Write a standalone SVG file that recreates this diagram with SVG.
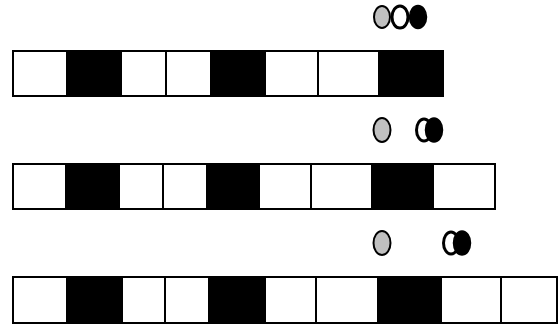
<svg xmlns="http://www.w3.org/2000/svg" width="558" height="324" viewBox="0 0 558 324">
<style>
.w{fill:#fff;stroke:#000;stroke-width:2}
.b{fill:#000;stroke:#000;stroke-width:2}
.g{fill:#c0c0c0;stroke:#000;stroke-width:2}
.r{fill:#fff;stroke:#000;stroke-width:3}
.k{fill:#000;stroke:#000;stroke-width:1.5}
</style>
<rect width="558" height="324" fill="#fff"/>
<g id="balls1">
<ellipse class="g" cx="382" cy="17" rx="8" ry="11"/>
<ellipse class="r" cx="400" cy="17" rx="8" ry="11"/>
<ellipse class="k" cx="418" cy="17" rx="8.5" ry="11.5"/>
</g>
<g id="tape1">
<rect class="w" x="13" y="51" width="54" height="45"/>
<rect class="b" x="67" y="51" width="54" height="45"/>
<rect class="w" x="121" y="51" width="45" height="45"/>
<rect class="w" x="166" y="51" width="45" height="45"/>
<rect class="b" x="211" y="51" width="54" height="45"/>
<rect class="w" x="265" y="51" width="53" height="45"/>
<rect class="w" x="318" y="51" width="61" height="45"/>
<rect class="b" x="379" y="51" width="64" height="45"/>
</g>
<g id="balls2">
<ellipse class="g" cx="382" cy="130" rx="8.5" ry="12"/>
<ellipse class="r" cx="424" cy="130" rx="7.5" ry="11"/>
<ellipse class="k" cx="434" cy="130" rx="8.5" ry="12"/>
</g>
<g id="tape2">
<rect class="w" x="13" y="164" width="53" height="45"/>
<rect class="b" x="66" y="164" width="53" height="45"/>
<rect class="w" x="119" y="164" width="44" height="45"/>
<rect class="w" x="163" y="164" width="44" height="45"/>
<rect class="b" x="207" y="164" width="52" height="45"/>
<rect class="w" x="259" y="164" width="52" height="45"/>
<rect class="w" x="311" y="164" width="61" height="45"/>
<rect class="b" x="372" y="164" width="61" height="45"/>
<rect class="w" x="433" y="164" width="62" height="45"/>
</g>
<g id="balls3">
<ellipse class="g" cx="382" cy="243" rx="8.5" ry="12"/>
<ellipse class="r" cx="451" cy="243" rx="7.5" ry="11"/>
<ellipse class="k" cx="462" cy="243" rx="8.5" ry="12"/>
</g>
<g id="tape3">
<rect class="w" x="13" y="277" width="54" height="46"/>
<rect class="b" x="67" y="277" width="55" height="46"/>
<rect class="w" x="122" y="277" width="43" height="46"/>
<rect class="w" x="165" y="277" width="44" height="46"/>
<rect class="b" x="209" y="277" width="56" height="46"/>
<rect class="w" x="265" y="277" width="51" height="46"/>
<rect class="w" x="316" y="277" width="62" height="46"/>
<rect class="b" x="378" y="277" width="63" height="46"/>
<rect class="w" x="441" y="277" width="60" height="46"/>
<rect class="w" x="501" y="277" width="56" height="46"/>
</g>
<g id="connectors"></g>
</svg>
